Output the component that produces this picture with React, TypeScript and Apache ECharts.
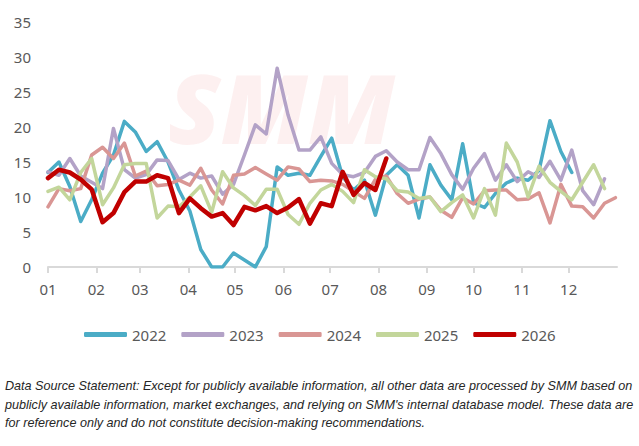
import { useEffect, useRef } from 'react';
import * as echarts from 'echarts';

// x axis: day of year, labelled by month
const MONTH_LABELS = ['01', '02', '03', '04', '05', '06', '07', '08', '09', '10', '11', '12'];
const MONTH_START_DAYS = [0, 31, 59, 90, 120, 151, 181, 212, 243, 273, 304, 334];

const YEARS = ['2022', '2023', '2024', '2025', '2026'];

// weekly values, one per week from Jan 1
const V2022 = [
  13.5, 15.0, 11.5, 6.5, 9.6, 13.4, 16.0, 20.8, 19.3, 16.5, 17.9, 15.0, 11.0, 8.0, 2.5, 0,
  0, 2.0, 1.0, 0, 2.9, 14.3, 13.1, 13.4, 13.1, 15.8, 18.4, 12.9, 11.0, 12.4, 7.4, 13.1,
  14.6, 13.1, 7.0, 14.6, 11.7, 9.6, 17.6, 9.2, 8.5, 10.5, 12.0, 12.7, 12.4, 13.8, 20.9, 16.5,
  13.5,
];
const V2023 = [
  13.6, 13.1, 15.5, 13.0, 12.1, 11.2, 19.8, 13.9, 12.7, 13.2, 15.3, 15.2, 12.5, 13.4, 12.7, 13.0,
  10.4, 11.8, 16.0, 20.3, 19.0, 28.4, 21.7, 16.7, 16.7, 18.6, 14.8, 13.2, 12.9, 13.5, 15.8, 16.6,
  15.0, 13.9, 13.9, 18.5, 16.2, 13.2, 11.1, 14.1, 16.2, 12.4, 14.6, 12.2, 13.6, 12.8, 15.1, 12.4,
  16.7, 10.9, 8.9, 12.6,
];
const V2024 = [
  8.6, 11.2, 10.9, 11.2, 16.0, 17.1, 15.5, 17.7, 13.0, 13.7, 11.6, 11.8, 12.4, 11.7, 14.1, 11.0,
  9.0, 13.1, 13.3, 14.2, 13.3, 12.4, 14.3, 14.0, 12.2, 12.4, 12.3, 11.8, 10.8, 9.8, 12.5, 13.0,
  10.5, 9.1, 9.7, 10.0, 8.1, 7.1, 9.9, 9.0, 10.9, 11.0, 11.0, 9.6, 9.7, 10.6, 6.3, 11.8,
  8.7, 8.6, 7.0, 9.1, 9.9,
];
const V2025 = [
  10.8, 11.4, 9.6, 13.5, 15.5, 8.9, 11.3, 14.6, 14.8, 14.8, 7.0, 8.7, 8.6, 10.0, 11.6, 7.8,
  13.6, 11.3, 10.2, 8.8, 11.1, 11.1, 7.5, 6.1, 9.1, 11.0, 11.8, 10.8, 9.2, 13.9, 12.9, 12.6,
  10.9, 10.7, 9.8, 10.0, 7.9, 9.2, 10.3, 7.0, 11.2, 7.4, 17.7, 15.0, 10.0, 14.4, 12.1, 10.8,
  9.6, 12.1, 14.6, 11.2,
];
const V2026 = [
  12.7, 13.9, 13.5, 12.5, 11.1, 6.4, 7.7, 10.7, 12.2, 12.2, 13.1, 12.7, 7.7, 9.8, 8.4, 7.2,
  7.7, 6.0, 8.6, 8.1, 8.7, 7.7, 8.5, 9.7, 6.2, 9.1, 8.7, 13.6, 10.3, 12.0, 11.0, 15.5,
];

const SERIES_VALUES = [V2022, V2023, V2024, V2025, V2026];
const COLORS = ['#4bacc6', '#b3a2c7', '#d99694', '#c3d69b', '#c00000'];
const WIDTHS = [3.5, 3.5, 3.5, 3.5, 4.5];

const NOTE_LINES = [
  'Data Source Statement: Except for publicly available information, all other data are processed by SMM based on',
  "publicly available information, market exchanges, and relying on SMM's internal database model. These data are",
  'for reference only and do not constitute decision-making recommendations.',
];

const FONT = "'Noto Sans', sans-serif";

export default function App() {
  const chartRef = useRef<HTMLDivElement>(null);

  useEffect(() => {
    if (!chartRef.current) return;
    const chart = echarts.init(chartRef.current, null, { renderer: 'svg' });

    const option: echarts.EChartsOption = {
      animation: false,
      backgroundColor: '#ffffff',
      grid: { left: 48, right: 22, top: 22, bottom: 179 },
      legend: {
        data: YEARS,
        left: 79,
        top: 322,
        icon: 'roundRect',
        itemWidth: 43,
        itemHeight: 5,
        itemGap: 15,
        textStyle: { color: '#595959', fontSize: 15, fontFamily: FONT },
      },
      xAxis: {
        type: 'value',
        min: 0,
        max: 365,
        splitLine: { show: false },
        axisLine: { show: true, lineStyle: { color: '#d9d9d9', width: 2 } },
        axisTick: {
          show: true,
          customValues: MONTH_START_DAYS,
          length: 6,
          lineStyle: { color: '#d9d9d9', width: 2 },
        },
        axisLabel: {
          customValues: MONTH_START_DAYS,
          formatter: (v: number) => MONTH_LABELS[MONTH_START_DAYS.indexOf(v)] ?? '',
          color: '#595959',
          fontSize: 15,
          fontFamily: FONT,
          margin: 14,
        },
      },
      yAxis: {
        type: 'value',
        min: 0,
        max: 35,
        interval: 5,
        splitLine: { show: false },
        axisLine: { show: false },
        axisTick: { show: false },
        axisLabel: { color: '#595959', fontSize: 15, fontFamily: FONT, margin: 17 },
      },
      graphic: [
        {
          type: 'text',
          left: 168,
          top: 58,
          z: 0,
          silent: true,
          style: {
            text: 'SMM',
            fontSize: 96,
            fontWeight: 900,
            fontStyle: 'italic',
            fontFamily: FONT,
            fill: 'rgba(230, 40, 40, 0.07)',
          },
        },
        {
          type: 'text',
          left: 5,
          top: 377,
          silent: true,
          style: {
            text: NOTE_LINES.join('\n'),
            fontSize: 12.6,
            lineHeight: 18.5,
            fontStyle: 'italic',
            fontFamily: "'Liberation Sans', sans-serif",
            fill: '#262626',
          },
        },
      ],
      series: YEARS.map((name, k) => ({
        name,
        type: 'line',
        symbol: 'none',
        data: SERIES_VALUES[k].map((v, i) => [i * 7, v]),
        lineStyle: { color: COLORS[k], width: WIDTHS[k], join: 'round', cap: 'round' },
        itemStyle: { color: COLORS[k] },
        z: 2 + k,
      })),
    };

    chart.setOption(option);
    return () => chart.dispose();
  }, []);

  return (
    <div
      ref={chartRef}
      style={{ position: 'fixed', left: 0, top: 0, width: '639px', height: '446px' }}
    />
  );
}
